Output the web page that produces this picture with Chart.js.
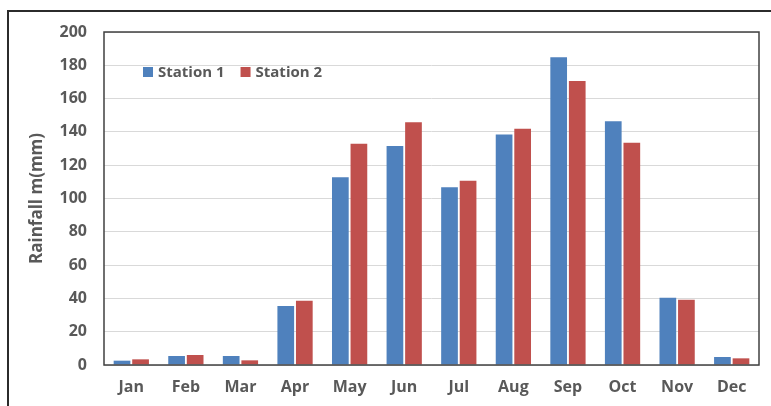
<!DOCTYPE html>
<html>
<head>
<meta charset="utf-8">
<script src="https://cdn.jsdelivr.net/npm/chart.js@4.4.0/dist/chart.umd.min.js"></script>
<style>
  html, body { margin:0; padding:0; background:#fff; }
  #wrap { width:771px; height:406px; position:relative; }
</style>
</head>
<body>
<div id="wrap"><canvas id="rainChart" width="771" height="406"></canvas></div>
<script>
// ─── Monthly rainfall, two stations ──────────────────────────────────────────
const MONTHS   = ['Jan','Feb','Mar','Apr','May','Jun','Jul','Aug','Sep','Oct','Nov','Dec'];
const STATION1 = [2.6, 5.4, 5.4, 35.4, 112.7, 131.5, 106.7, 138.5, 184.8, 146.4, 40.4, 4.8];
const STATION2 = [3.4, 6.0, 2.8, 38.6, 132.9, 145.8, 110.7, 141.9, 170.6, 133.5, 39.2, 4.0];
const Y_TICKS  = [0, 20, 40, 60, 80, 100, 120, 140, 160, 180, 200];

const FONT = '"Open Sans", sans-serif';
const TEXT = '#595959';

// frame round the picture + border round the plot area
const framePlugin = {
  id: 'frame',
  beforeDraw(chart) {
    const c = chart.ctx;
    c.save();
    c.fillStyle = '#fff';
    c.fillRect(0, 0, chart.width, chart.height);
    c.strokeStyle = '#2b2b2b';
    c.lineWidth = 2;
    c.beginPath();
    c.moveTo(8, chart.height);
    c.lineTo(8, 11);
    c.lineTo(chart.width, 11);
    c.stroke();
    c.restore();
  },
  afterDatasetsDraw(chart) {
    const a = chart.chartArea, c = chart.ctx;
    c.save();
    c.strokeStyle = '#404040';
    c.lineWidth = 1.5;
    c.strokeRect(a.left, a.top, a.right - a.left, a.bottom - a.top);
    c.restore();
  }
};

// legend sits inside the plot, top-left
const innerLegend = {
  id: 'innerLegend',
  afterDraw(chart) {
    const a = chart.chartArea, c = chart.ctx;
    let x = a.left + 39;
    const y = a.top + 40;
    c.save();
    c.font = 'bold 15px ' + FONT;
    c.textBaseline = 'middle';
    chart.data.datasets.forEach(ds => {
      c.fillStyle = ds.backgroundColor;
      c.fillRect(x, y - 5, 10, 10);
      x += 15;
      c.fillStyle = TEXT;
      c.fillText(ds.label, x, y + 1);
      x += c.measureText(ds.label).width + 16;
    });
    c.restore();
  }
};

new Chart(document.getElementById('rainChart'), {
  type: 'bar',
  data: {
    labels: MONTHS,
    datasets: [
      { label:'Station 1', data:STATION1, backgroundColor:'#4F81BD', categoryPercentage:0.68, barPercentage:0.9 },
      { label:'Station 2', data:STATION2, backgroundColor:'#C0504D', categoryPercentage:0.68, barPercentage:0.9 }
    ]
  },
  options: {
    responsive:false, animation:false,
    layout:{ padding:{ left:0, top:32, right:12, bottom:0 } },
    plugins:{ legend:{display:false}, tooltip:{enabled:false} },
    scales:{
      x:{
        grid:{ display:false, drawTicks:false },
        border:{ display:false },
        ticks:{ color:TEXT, font:{family:FONT, size:16, weight:'bold'}, padding:13 },
        afterFit(s) { s.height = 41; }
      },
      y:{
        min:0, max:200,
        afterBuildTicks(s) { s.ticks = Y_TICKS.map(v => ({value:v})); },
        grid:{ color:'#d9d9d9', lineWidth:1, drawTicks:false },
        border:{ display:false },
        ticks:{ color:TEXT, font:{family:FONT, size:16, weight:'bold'}, padding:17 },
        title:{ display:true, text:'Rainfall m(mm)', color:TEXT,
                font:{family:FONT, size:17, weight:'bold'}, padding:{top:27, bottom:0} },
        afterFit(s) { s.width = 104; }
      }
    }
  },
  plugins:[framePlugin, innerLegend]
});
</script>
</body>
</html>
